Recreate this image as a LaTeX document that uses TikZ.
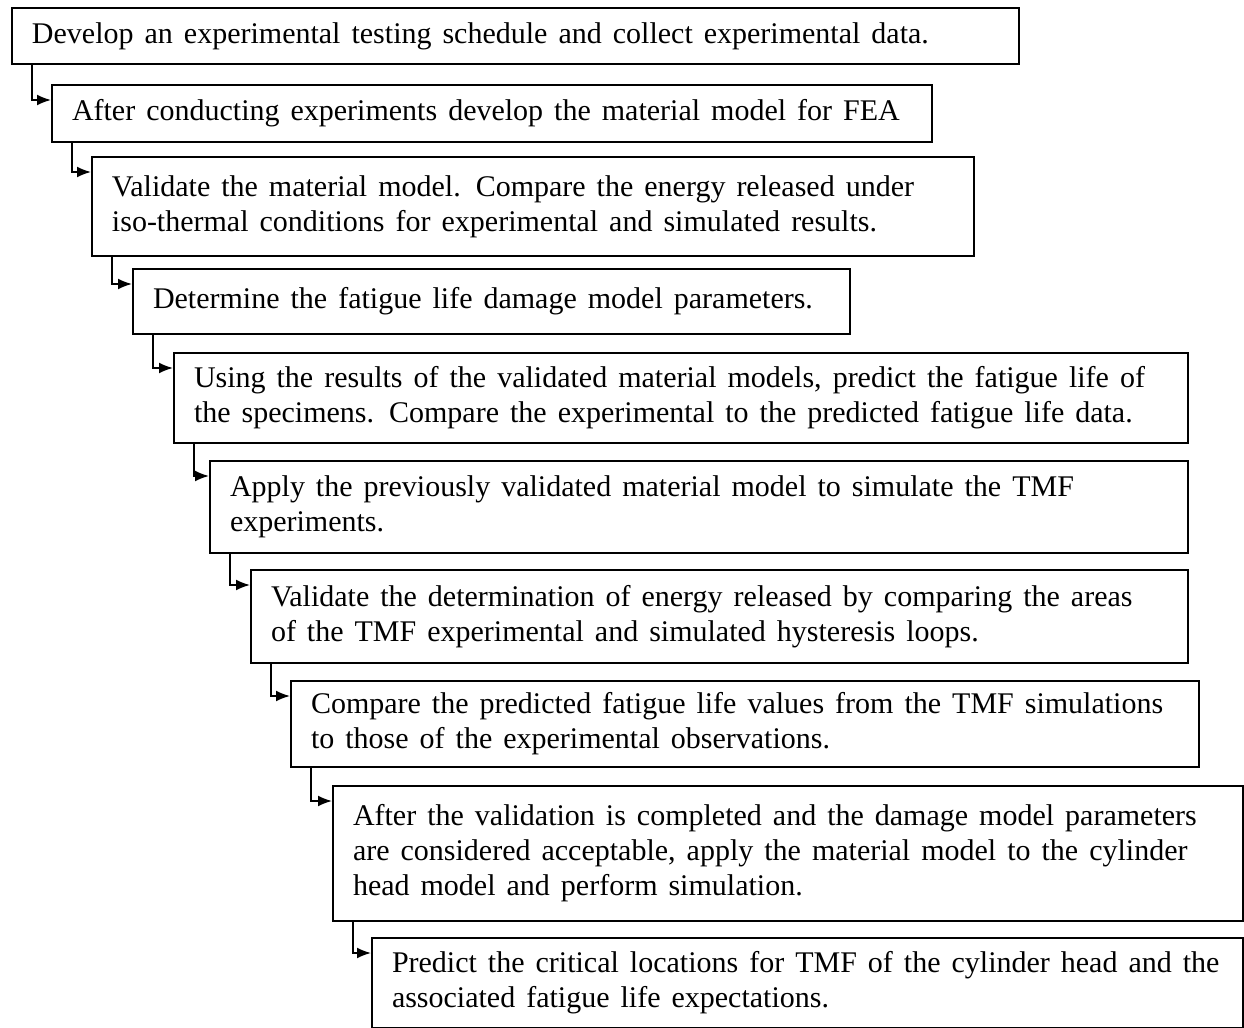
\documentclass[tikz,border=0pt]{standalone}
\usepackage{fontspec}
\setmainfont{Liberation Serif}
\usetikzlibrary{arrows.meta}

\begin{document}
\begin{tikzpicture}[x=0.5pt,y=-0.5pt,
  stage/.style={draw, line width=1pt, rectangle, anchor=north west, align=left,
    inner xsep=10pt, inner ysep=0pt, font=\fontsize{15}{17.5}\selectfont,
    execute at begin node={\spaceskip=5.5pt\relax}},
  link/.style={draw, line width=0.9pt, -{Latex[length=7pt,width=5.5pt]}}]
\useasboundingbox (0,0) rectangle (1244,1028);
\node[stage, text width=483.5pt, minimum height=28pt] (1) at (11,7) {Develop an experimental testing schedule and collect experimental data.};
\node[stage, text width=420pt, minimum height=28.5pt] (2) at (51,84) {After conducting experiments develop the material model for FEA};
\node[stage, text width=421pt, minimum height=49.5pt] (3) at (91,156) {Validate the material model. Compare the energy released under\\ iso-thermal conditions for experimental and simulated results.};
\node[stage, text width=338.5pt, minimum height=32.5pt] (4) at (132,268) {Determine the fatigue life damage model parameters.};
\node[stage, text width=487pt, minimum height=45pt] (5) at (173,352) {Using the results of the validated material models, predict the fatigue life of\\ the specimens. Compare the experimental to the predicted fatigue life data.};
\node[stage, text width=469pt, minimum height=46pt] (6) at (209,460) {Apply the previously validated material model to simulate the TMF\\ experiments.};
\node[stage, text width=448.5pt, minimum height=46.5pt] (7) at (250,569) {Validate the determination of energy released by comparing the areas\\ of the TMF experimental and simulated hysteresis loops.};
\node[stage, text width=434pt, minimum height=43pt] (8) at (290,680) {Compare the predicted fatigue life values from the TMF simulations\\ to those of the experimental observations.};
\node[stage, text width=435pt, minimum height=67.5pt] (9) at (332,785) {After the validation is completed and the damage model parameters\\ are considered acceptable, apply the material model to the cylinder\\ head model and perform simulation.};
\node[stage, text width=415.5pt, minimum height=45pt] (10) at (371,937) {Predict the critical locations for TMF of the cylinder head and the\\ associated fatigue life expectations.};
\path[link] ([xshift=10.5pt]1.south west) |- ([yshift=-8pt]2.north west);
\path[link] ([xshift=10.5pt]2.south west) |- ([yshift=-8pt]3.north west);
\path[link] ([xshift=10.5pt]3.south west) |- ([yshift=-8pt]4.north west);
\path[link] ([xshift=10.5pt]4.south west) |- ([yshift=-8pt]5.north west);
\path[link] ([xshift=10.5pt]5.south west) |- ([yshift=-8pt]6.north west);
\path[link] ([xshift=10.5pt]6.south west) |- ([yshift=-8pt]7.north west);
\path[link] ([xshift=10.5pt]7.south west) |- ([yshift=-8pt]8.north west);
\path[link] ([xshift=10.5pt]8.south west) |- ([yshift=-8pt]9.north west);
\path[link] ([xshift=10.5pt]9.south west) |- ([yshift=-8pt]10.north west);
\end{tikzpicture}
\end{document}
